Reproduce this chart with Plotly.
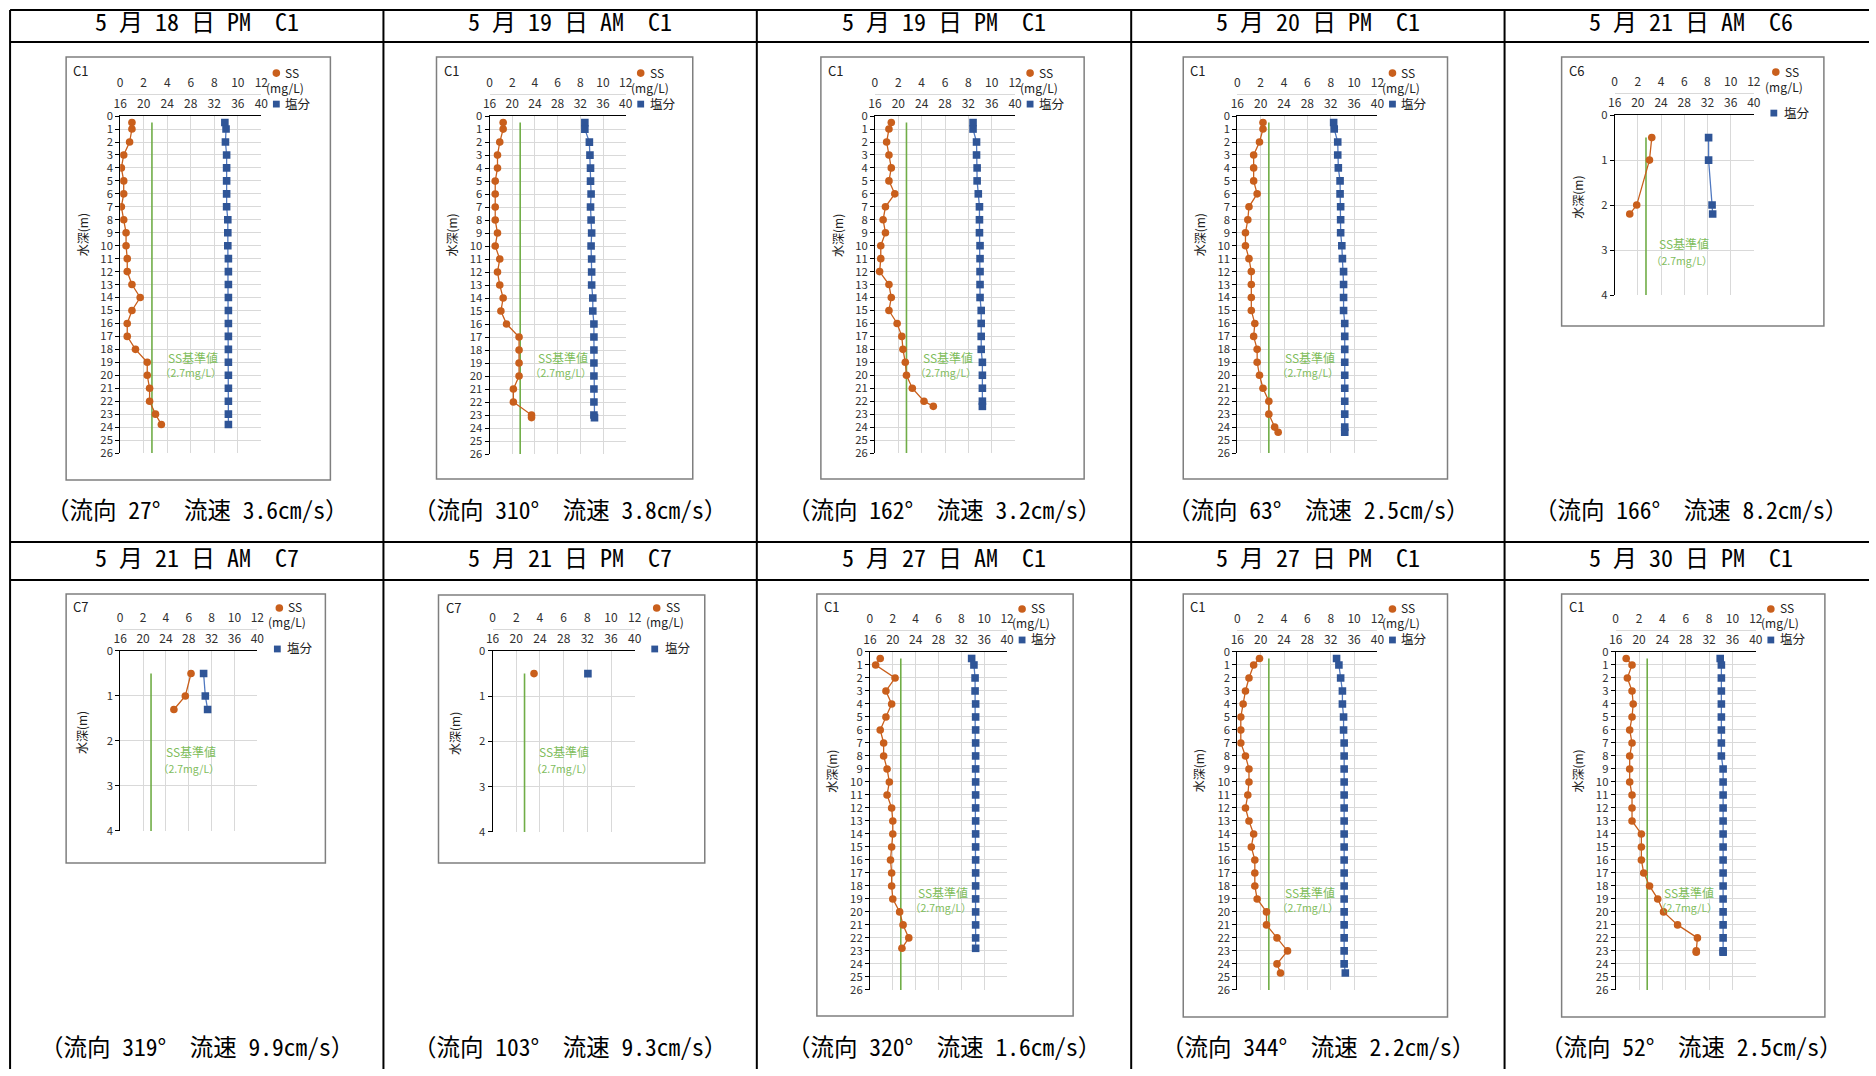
import plotly.graph_objects as go

W, H = 1876, 1076
# the photographed page keeps an 8px frame around the figure and is scaled back
# to the window; positions below are pre-corrected for that
FRAME = 8
SX = W / (W + 2 * FRAME)
SY = H / (H + 2 * FRAME)

# ---------------- data ----------------
headers = ["5 月 18 日 PM　C1", "5 月 19 日 AM　C1", "5 月 19 日 PM　C1",
           "5 月 20 日 PM　C1", "5 月 21 日 AM　C6", "5 月 21 日 AM　C7",
           "5 月 21 日 PM　C7", "5 月 27 日 AM　C1", "5 月 27 日 PM　C1",
           "5 月 30 日 PM　C1"]
footers = ["（流向 27°　流速 3.6cm/s）", "（流向 310°　流速 3.8cm/s）",
           "（流向 162°　流速 3.2cm/s）", "（流向 63°　流速 2.5cm/s）",
           "（流向 166°　流速 8.2cm/s）", "（流向 319°　流速 9.9cm/s）",
           "（流向 103°　流速 9.3cm/s）", "（流向 320°　流速 1.6cm/s）",
           "（流向 344°　流速 2.2cm/s）", "（流向 52°　流速 2.5cm/s）"]
stations = ["C1", "C1", "C1", "C1", "C6", "C7", "C7", "C1", "C1", "C1"]

ss_range = [0, 12]
ss_dtick = 2
sal_range = [16, 40]
sal_dtick = 4
depth_max_deep = 26
depth_max_shallow = 4
SS_STANDARD = 2.7
SS_STANDARD_TOP = 0.5
ss_label = "SS基準値"
ss_label2 = "（2.7mg/L）"

depth_0518pm = [0.5, 1, 2, 3, 4, 5, 6, 7, 8, 9, 10, 11, 12, 13, 14, 15, 16, 17, 18, 19, 20, 21, 22, 23, 23.8]
ss_0518pm = [1.0, 1.0, 0.8, 0.3, 0.1, 0.3, 0.3, 0.1, 0.3, 0.5, 0.5, 0.6, 0.6, 1.0, 1.7, 1.0, 0.6, 0.6, 1.3, 2.3, 2.3, 2.5, 2.5, 3.0, 3.5]
sal_0518pm = [33.8, 34.0, 33.9, 34.1, 34.1, 34.1, 34.1, 34.1, 34.3, 34.3, 34.3, 34.4, 34.4, 34.4, 34.4, 34.4, 34.4, 34.4, 34.4, 34.4, 34.4, 34.4, 34.4, 34.4, 34.4]

depth_0519am = [0.5, 1, 2, 3, 4, 5, 6, 7, 8, 9, 10, 11, 12, 13, 14, 15, 16, 17, 18, 19, 20, 21, 22, 23, 23.2]
ss_0519am = [1.2, 1.2, 0.9, 0.7, 0.7, 0.5, 0.5, 0.5, 0.5, 0.7, 0.5, 0.9, 0.7, 0.9, 1.2, 1.0, 1.5, 2.6, 2.6, 2.6, 2.6, 2.1, 2.1, 3.7, 3.7]
sal_0519am = [32.8, 32.8, 33.6, 33.7, 33.8, 33.8, 33.9, 33.8, 33.9, 34.0, 33.9, 34.0, 34.0, 34.0, 34.2, 34.2, 34.4, 34.4, 34.4, 34.4, 34.4, 34.4, 34.4, 34.4, 34.5]

depth_0519pm = [0.5, 1, 2, 3, 4, 5, 6, 7, 8, 9, 10, 11, 12, 13, 14, 15, 16, 17, 18, 19, 20, 21, 22, 22.4]
ss_0519pm = [1.4, 1.2, 1.0, 1.2, 1.4, 1.2, 1.7, 0.9, 0.7, 0.9, 0.5, 0.5, 0.4, 1.2, 1.4, 1.2, 1.9, 2.3, 2.4, 2.6, 2.7, 3.2, 4.2, 5.0]
sal_0519pm = [32.8, 32.8, 33.4, 33.4, 33.5, 33.5, 33.7, 33.9, 33.9, 33.9, 34.0, 34.0, 34.0, 34.0, 34.0, 34.2, 34.2, 34.2, 34.2, 34.4, 34.4, 34.4, 34.4, 34.4]

depth_0520pm = [0.5, 1, 2, 3, 4, 5, 6, 7, 8, 9, 10, 11, 12, 13, 14, 15, 16, 17, 18, 19, 20, 21, 22, 23, 24, 24.4]
ss_0520pm = [2.2, 2.2, 1.9, 1.4, 1.4, 1.4, 1.7, 1.0, 0.9, 0.7, 0.7, 1.0, 1.2, 1.2, 1.2, 1.2, 1.5, 1.4, 1.7, 1.7, 1.9, 2.2, 2.7, 2.7, 3.2, 3.5]
sal_0520pm = [32.5, 32.6, 33.2, 33.2, 33.3, 33.6, 33.6, 33.7, 33.7, 33.7, 33.9, 34.0, 34.2, 34.2, 34.2, 34.2, 34.4, 34.4, 34.4, 34.4, 34.4, 34.4, 34.4, 34.4, 34.4, 34.4]

depth_0521am_c6 = [0.5, 1, 2, 2.2]
ss_0521am_c6 = [3.2, 3.0, 1.9, 1.3]
sal_0521am_c6 = [32.2, 32.2, 32.8, 32.9]

depth_0521am_c7 = [0.5, 1, 1.3]
ss_0521am_c7 = [6.2, 5.7, 4.7]
sal_0521am_c7 = [30.6, 30.9, 31.3]

depth_0521pm_c7 = [0.5]
ss_0521pm_c7 = [3.5]
sal_0521pm_c7 = [32.1]

depth_0527am = [0.5, 1, 2, 3, 4, 5, 6, 7, 8, 9, 10, 11, 12, 13, 14, 15, 16, 17, 18, 19, 20, 21, 22, 22.8]
ss_0527am = [0.9, 0.5, 2.2, 1.4, 1.9, 1.4, 0.9, 1.2, 1.2, 1.5, 1.7, 1.5, 1.9, 2.0, 2.0, 1.9, 1.8, 1.9, 1.9, 2.0, 2.6, 2.9, 3.4, 2.8]
sal_0527am = [33.8, 34.2, 34.4, 34.4, 34.5, 34.5, 34.5, 34.5, 34.5, 34.5, 34.5, 34.5, 34.5, 34.5, 34.5, 34.5, 34.5, 34.5, 34.5, 34.5, 34.5, 34.5, 34.5, 34.5]

depth_0527pm = [0.5, 1, 2, 3, 4, 5, 6, 7, 8, 9, 10, 11, 12, 13, 14, 15, 16, 17, 18, 19, 20, 21, 22, 23, 24, 24.7]
ss_0527pm = [1.9, 1.4, 1.0, 0.7, 0.5, 0.3, 0.3, 0.3, 0.7, 1.0, 1.0, 0.9, 0.7, 1.0, 1.4, 1.2, 1.5, 1.5, 1.5, 1.7, 2.5, 2.5, 3.4, 4.3, 3.4, 3.7]
sal_0527pm = [33.0, 33.4, 33.7, 34.0, 34.0, 34.2, 34.2, 34.3, 34.3, 34.3, 34.3, 34.3, 34.3, 34.3, 34.3, 34.3, 34.3, 34.3, 34.3, 34.3, 34.3, 34.3, 34.3, 34.3, 34.3, 34.5]

depth_0530pm = [0.5, 1, 2, 3, 4, 5, 6, 7, 8, 9, 10, 11, 12, 13, 14, 15, 16, 17, 18, 19, 20, 21, 22, 23, 23.1]
ss_0530pm = [0.9, 1.4, 1.0, 1.4, 1.5, 1.4, 1.2, 1.4, 1.2, 1.2, 1.2, 1.4, 1.4, 1.4, 2.2, 2.2, 2.2, 2.4, 2.9, 3.6, 4.1, 5.3, 7.0, 6.9, 6.9]
sal_0530pm = [33.9, 34.1, 34.1, 34.1, 34.1, 34.1, 34.1, 34.1, 34.1, 34.4, 34.4, 34.4, 34.4, 34.4, 34.4, 34.4, 34.4, 34.4, 34.4, 34.4, 34.4, 34.4, 34.4, 34.4, 34.4]

series = [
    (depth_0518pm, ss_0518pm, sal_0518pm),
    (depth_0519am, ss_0519am, sal_0519am),
    (depth_0519pm, ss_0519pm, sal_0519pm),
    (depth_0520pm, ss_0520pm, sal_0520pm),
    (depth_0521am_c6, ss_0521am_c6, sal_0521am_c6),
    (depth_0521am_c7, ss_0521am_c7, sal_0521am_c7),
    (depth_0521pm_c7, ss_0521pm_c7, sal_0521pm_c7),
    (depth_0527am, ss_0527am, sal_0527am),
    (depth_0527pm, ss_0527pm, sal_0527pm),
    (depth_0530pm, ss_0530pm, sal_0530pm),
]

# ---------------- layout geometry (target pixels) ----------------
geo = [
    ((121, 115, 262, 452), (67, 56, 331, 479), "tall"),
    ((490, 115, 626, 453), (437, 56, 693, 478), "tall"),
    ((875, 115, 1015, 452), (821, 56, 1084, 478), "tall"),
    ((1237, 115, 1377, 452), (1183, 56, 1447, 478), "tall"),
    ((1614, 114, 1753, 294), (1561, 56, 1823, 325), "c6"),
    ((121, 650, 258, 830), (67, 593, 326, 862), "c7"),
    ((493, 650, 635, 831), (439, 594, 705, 862), "c7"),
    ((870, 651, 1007, 989), (817, 593, 1073, 1015), "tall"),
    ((1237, 651, 1377, 989), (1183, 593, 1447, 1016), "tall"),
    ((1615, 651, 1755, 989), (1561, 593, 1824, 1016), "tall"),
]
col_edges = [11, 384, 757, 1131, 1504, 1876]
header_y = [19, 556]
footer_y = [508, 1045]

SS_COLOR = "#c95f1c"
SAL_COLOR = "#2f5597"
SAL_LINE = "#4f78c0"
GREEN = "#70ad47"
GREEN_TXT = "#7fbd5c"
GRID = "#d9d9d9"
TICKC = "#303030"
TXT = "#202020"
FONT = "Noto Sans CJK JP"
MONO = "Noto Sans Mono CJK JP, Noto Sans CJK JP"


def fx(x):
    return ((x - FRAME * SX) / SX) / W


def fy(y):
    return 1 - ((y - FRAME * SY) / SY) / H


fig = go.Figure()
layout = dict(
    width=W, height=H, autosize=False,
    margin=dict(l=0, r=0, t=0, b=0),
    paper_bgcolor="white", plot_bgcolor="white",
    showlegend=False,
    font=dict(family=FONT, size=12, color=TICKC),
)
shapes = []
annotations = []


def note(text, x, y, size, color=TXT, family=FONT, xanchor="center", angle=0):
    annotations.append(dict(text=text, x=fx(x), y=fy(y), xref="paper", yref="paper",
                            xanchor=xanchor, yanchor="middle", showarrow=False,
                            textangle=angle, font=dict(size=size, color=color, family=family)))


for i, ((pl, pt, pr, pb), (bl, bt, br, bb), kind) in enumerate(geo):
    n = i + 1
    xs_id, xl_id, y_id = f"x{2*n-1}", f"x{2*n}", f"y{n}"
    xs_key = "xaxis" if 2 * n - 1 == 1 else f"xaxis{2*n-1}"
    xl_key = f"xaxis{2*n}"
    y_key = "yaxis" if n == 1 else f"yaxis{n}"
    depth, ss, sal = series[i]
    ymax = depth_max_deep if kind == "tall" else depth_max_shallow

    fig.add_trace(go.Scatter(
        x=[SS_STANDARD, SS_STANDARD], y=[SS_STANDARD_TOP, ymax],
        xaxis=xs_id, yaxis=y_id, mode="lines",
        line=dict(color=GREEN, width=1.6), hoverinfo="skip"))
    fig.add_trace(go.Scatter(
        x=ss, y=depth, xaxis=xs_id, yaxis=y_id, mode="lines+markers",
        line=dict(color=SS_COLOR, width=1.3),
        marker=dict(symbol="circle", size=7.6, color=SS_COLOR), name="SS"))
    fig.add_trace(go.Scatter(
        x=sal, y=depth, xaxis=xl_id, yaxis=y_id, mode="lines+markers",
        line=dict(color=SAL_LINE, width=1.3),
        marker=dict(symbol="square", size=7.6, color=SAL_COLOR), name="塩分"))

    dom_x = [fx(pl), fx(pr)]
    tfx = dict(size=12, color=TICKC, family=FONT)
    tfy = dict(size=11.3, color=TICKC, family=FONT)
    layout[xs_key] = dict(
        domain=dom_x, range=ss_range, dtick=ss_dtick, tick0=0,
        anchor="free", position=fy(pt - 22), side="top",
        showline=True, linecolor=GRID, linewidth=1,
        showgrid=True, gridcolor=GRID, gridwidth=1, zeroline=False,
        ticks="", ticklabelstandoff=2, tickfont=tfx, fixedrange=True)
    layout[xl_key] = dict(
        domain=dom_x, range=sal_range, dtick=sal_dtick, tick0=16,
        overlaying=xs_id, anchor=y_id, side="top",
        showline=True, linecolor="black", linewidth=1,
        showgrid=False, zeroline=False, ticks="", ticklabelstandoff=2,
        tickfont=tfx, fixedrange=True)
    layout[y_key] = dict(
        domain=[fy(pb), fy(pt)], anchor=xs_id, range=[ymax, 0],
        dtick=1, tick0=0, showline=True, linecolor="black", linewidth=1,
        ticks="outside", ticklen=4, tickcolor="black",
        showgrid=True, gridcolor=GRID, gridwidth=1, zeroline=False,
        tickfont=tfy, fixedrange=True)

    shapes.append(dict(type="rect", xref="paper", yref="paper",
                       x0=fx(bl), x1=fx(br), y0=fy(bb), y1=fy(bt),
                       line=dict(color="#7f7f7f", width=1.5), layer="below"))
    note(stations[i], bl + 5, bt + 13, 13, xanchor="left")

    ty = pt + 119 if kind == "tall" else (pt + pb) / 2 - 8
    note("水深(m)", pl - 38, ty, 12, angle=-90)

    if kind == "tall":
        a1, a2 = (73, 241), (71, 256)
    elif kind == "c6":
        a1, a2 = (69, 128), (67, 145)
    else:
        a1, a2 = (71, 101), (69, 118)
    note(ss_label, pl + a1[0], pt + a1[1], 12, color=GREEN_TXT)
    note(ss_label2, pl + a2[0], pt + a2[1], 10.5, color=GREEN_TXT)

    if kind == "tall":
        c_x, c_y, ss_tx = pr + 15, pt - 43, pr + 22
        mg_x, mg_y = pr + 24, pt - 29
        s_x, s_y, sal_tx = pr + 15, pt - 12, pr + 22
    else:
        c_x, c_y, ss_tx = pr + 22, pt - 43, pr + 29
        mg_x, mg_y = pr + 30, pt - 29
        s_x, s_y, sal_tx = pr + 20, pt - 2, pr + 28
    r = 3.8
    shapes.append(dict(type="circle", xref="paper", yref="paper",
                       x0=fx(c_x - r), x1=fx(c_x + r), y0=fy(c_y + r), y1=fy(c_y - r),
                       fillcolor=SS_COLOR, line=dict(width=0)))
    q = 3.4
    shapes.append(dict(type="rect", xref="paper", yref="paper",
                       x0=fx(s_x - q), x1=fx(s_x + q), y0=fy(s_y + q), y1=fy(s_y - q),
                       fillcolor=SAL_COLOR, line=dict(width=0)))
    note("SS", ss_tx, c_y - 1, 12, xanchor="left")
    note("(mg/L)", mg_x, mg_y, 12)
    note("塩分", sal_tx, s_y - 1, 12.5, xanchor="left")

    row, col = divmod(i, 5)
    cx = (col_edges[col] + col_edges[col + 1]) / 2
    note(headers[i], cx, header_y[row], 24, color="black", family=MONO)
    note(footers[i], cx, footer_y[row], 23.5, color="black", family=MONO)

# table lines
top_line = max(5, FRAME * SY + 1)
for y in [top_line, 41, 541, 579]:
    shapes.append(dict(type="line", xref="paper", yref="paper",
                       x0=fx(11), x1=1, y0=fy(y), y1=fy(y),
                       line=dict(color="black", width=2)))
for x in col_edges[:-1]:
    shapes.append(dict(type="line", xref="paper", yref="paper",
                       x0=fx(x), x1=fx(x), y0=fy(top_line), y1=0,
                       line=dict(color="black", width=2)))

layout["shapes"] = shapes
layout["annotations"] = annotations
fig.update_layout(**layout)

pin_script = (
    "document.documentElement.style.margin='0';"
    "document.body.style.margin='0';"
    "document.body.style.padding='0';"
)
fig.write_html("out.html", config={"displayModeBar": False}, post_script=pin_script)
